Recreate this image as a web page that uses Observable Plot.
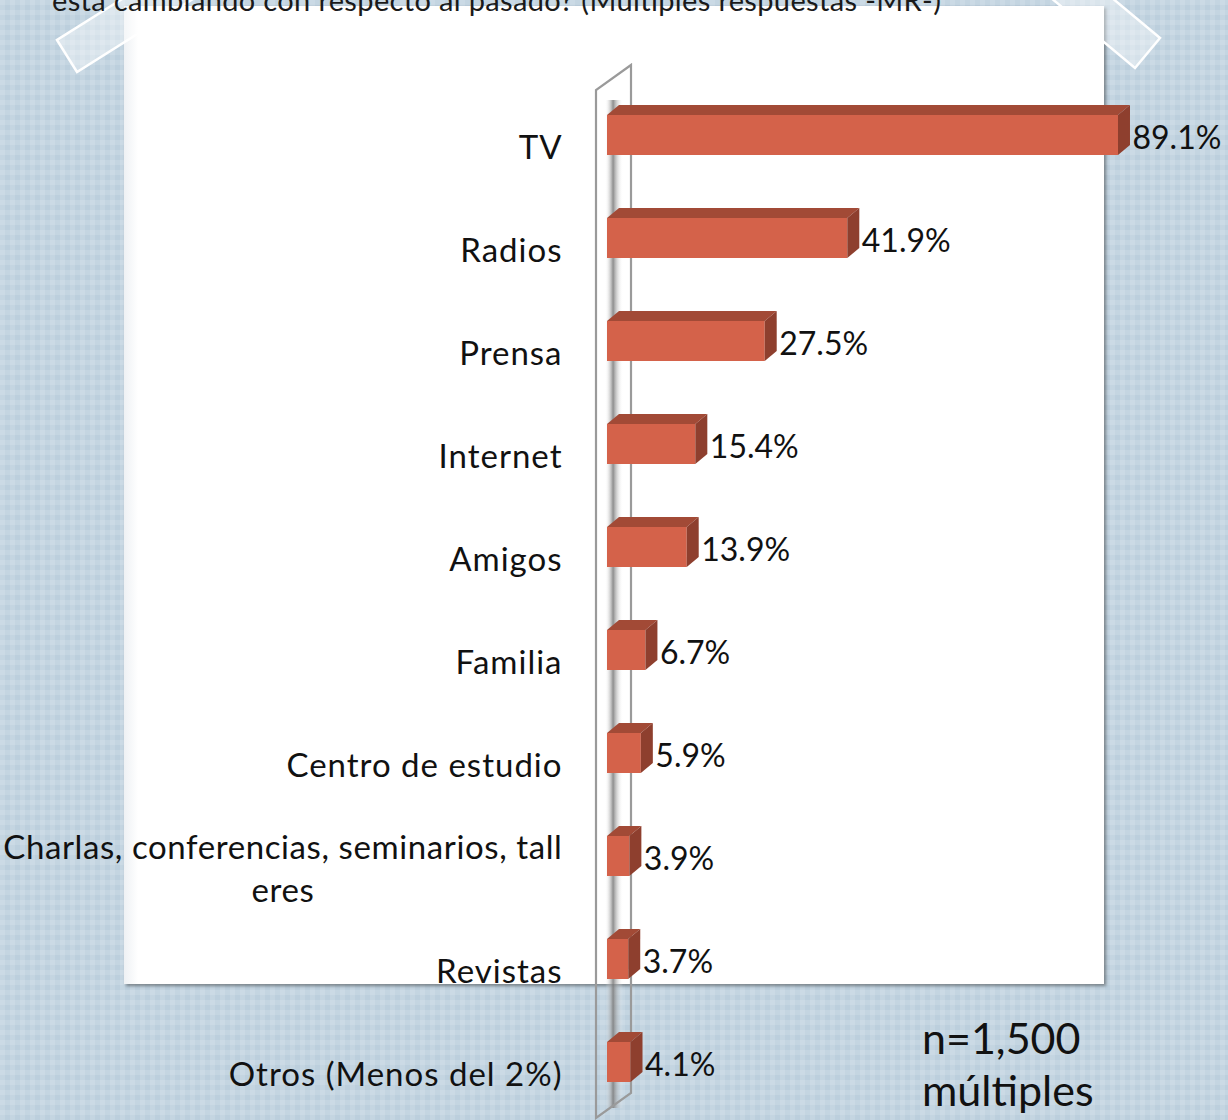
<!DOCTYPE html>
<html>
<head>
<meta charset="utf-8">
<script src="https://cdn.jsdelivr.net/npm/d3@7"></script>
<script src="https://cdn.jsdelivr.net/npm/@observablehq/plot@0.6"></script>
<style>
  html, body { margin: 0; padding: 0; }
  body {
    width: 1228px; height: 1120px; overflow: hidden; position: relative;
    background-color: #bccfdd;
    background-image:
      linear-gradient(90deg, rgba(255,255,255,0.12) 50%, rgba(0,0,0,0) 50%),
      linear-gradient(rgba(255,255,255,0.12) 50%, rgba(0,0,0,0) 50%);
    background-size: 10px 10px;
    font-family: Lato, "Open Sans", sans-serif;
  }
  #panel {
    position: absolute; left: 124px; top: 6px; width: 980px; height: 978px;
    background: linear-gradient(90deg, #eef1f4 0px, #ffffff 14px);
    box-shadow: 2px 2px 3px rgba(0,0,0,0.4);
  }
  #tapes { position: absolute; left: 0; top: 0; }
  #title {
    position: absolute; left: 52px; top: -15px; font-size: 29px; line-height: 29px;
    letter-spacing: 0.35px; color: #1a1a1a; white-space: nowrap;
  }
  #chart { position: absolute; left: 0; top: 0; }
  #note {
    position: absolute; left: 922px; top: 1012px; font-size: 43px; line-height: 52px;
    color: #111;
  }
  g.catlabels { letter-spacing: 1px; }
  g.catlabels text.wrapped { letter-spacing: 0.6px; }
</style>
</head>
<body>
<div id="panel"></div>
<svg id="tapes" width="1228" height="1120">
  <polygon points="57,40 77,72 204,-8 184,-40" fill="rgba(255,255,255,0.38)" stroke="#ffffff" stroke-width="2.5"/>
  <polygon points="1160,38 1135,68 1020,-28 1045,-58" fill="rgba(255,255,255,0.38)" stroke="#ffffff" stroke-width="2.5"/>
</svg>
<div id="chart"></div>
<div id="title">está cambiando con respecto al pasado? (Múltiples respuestas -MR-)</div>
<div id="note">n=1,500<br>múltiples</div>
<script>
// ---- data ----
const categories = ["TV", "Radios", "Prensa", "Internet", "Amigos", "Familia", "Centro de estudio", "Charlas, conferencias, seminarios, tall\neres", "Revistas", "Otros (Menos del 2%)"];
const values = [89.1, 41.9, 27.5, 15.4, 13.9, 6.7, 5.9, 3.9, 3.7, 4.1];
const valueLabels = ["89.1%", "41.9%", "27.5%", "15.4%", "13.9%", "6.7%", "5.9%", "3.9%", "3.7%", "4.1%"];

const data = categories.map((c, i) => ({category: c, value: values[i], label: valueLabels[i]}));

const FRONT = "#d4624a", TOP = "#a24a36", SIDE = "#8e3f2e";
const DX = 12, DY = 10;

function bw(y) {
  if (typeof y.bandwidth === "function") return y.bandwidth();
  if (typeof y.bandwidth === "number") return y.bandwidth;
  return 40;
}

// back wall of the 3D axis, derived from scales
function wall(index, scales, values, dims) {
  const x = scales.x, y = scales.y, b = bw(y);
  const x0 = x(0);
  const yFirst = y(categories[0]), yLast = y(categories[categories.length - 1]) + b;
  const lx = x0 - 11, rx = x0 + 24;
  const lt = yFirst - 25, lb = yLast + 36;
  const g = d3.create("svg:g");
  const defs = g.append("defs");
  const grad = defs.append("linearGradient").attr("id", "stripe").attr("x1", 0).attr("x2", 1).attr("y1", 0).attr("y2", 0);
  grad.append("stop").attr("offset", "0%").attr("stop-color", "#ffffff").attr("stop-opacity", 0);
  grad.append("stop").attr("offset", "45%").attr("stop-color", "#7a7a7a").attr("stop-opacity", 0.85);
  grad.append("stop").attr("offset", "100%").attr("stop-color", "#ffffff").attr("stop-opacity", 0);
  g.append("rect").attr("x", x0 - 2).attr("y", lt + 10).attr("width", 18).attr("height", lb - lt - 20).attr("fill", "url(#stripe)");
  g.append("path")
    .attr("d", `M${lx},${lb} L${lx},${lt} L${rx},${lt - 25} L${rx},${lb - 25} Z`)
    .attr("fill", "none").attr("stroke", "#9a9a9a").attr("stroke-width", 2.2);
  return g.node();
}

// top and side faces of the 3D bars
function faces(index, scales) {
  const x = scales.x, y = scales.y, b = bw(y);
  const g = d3.create("svg:g");
  for (const d of data) {
    const x0 = x(0), x1 = x(d.value), y0 = y(d.category);
    g.append("polygon")
      .attr("points", `${x0},${y0} ${x0 + DX},${y0 - DY} ${x1 + DX},${y0 - DY} ${x1},${y0}`)
      .attr("fill", TOP);
    g.append("polygon")
      .attr("points", `${x1},${y0} ${x1 + DX},${y0 - DY} ${x1 + DX},${y0 + b - DY} ${x1},${y0 + b}`)
      .attr("fill", SIDE);
  }
  return g.node();
}

const chart = Plot.plot({
  width: 1228,
  height: 1120,
  marginLeft: 607,
  marginRight: 47.5,
  marginTop: 0,
  marginBottom: 0,
  style: {background: "transparent", overflow: "visible", fontFamily: "Lato, 'Open Sans', sans-serif"},
  x: {domain: [0, 100], axis: null},
  y: {domain: categories, range: [83.5, 1113.5], paddingInner: 0.61, paddingOuter: 0.305, axis: null},
  marks: [
    wall,
    Plot.barX(data, {x: "value", y: "category", fill: FRONT}),
    faces,
    Plot.text(data, {
      y: "category", text: "category", frameAnchor: "left", dx: -45, dy: 10,
      textAnchor: "end", fontSize: 33, fill: "#111", lineHeight: 1.3
    }),
    Plot.text(data, {
      x: "value", y: "category", text: "label", dx: 14, dy: 3,
      textAnchor: "start", fontSize: 32, fill: "#111"
    })
  ]
});
document.getElementById("chart").appendChild(chart);

// category labels: wider letter spacing like the original face
const textGroups = chart.querySelectorAll('g[aria-label="text"]');
if (textGroups.length) textGroups[0].classList.add("catlabels");

// center the second line of the wrapped label under the first one
chart.querySelectorAll("text").forEach(t => {
  const spans = t.querySelectorAll("tspan");
  if (spans.length === 2) {
    t.classList.add("wrapped");
    const w = spans[0].getComputedTextLength();
    spans[1].setAttribute("text-anchor", "middle");
    spans[1].setAttribute("x", -w / 2);
  }
});
</script>
</body>
</html>
